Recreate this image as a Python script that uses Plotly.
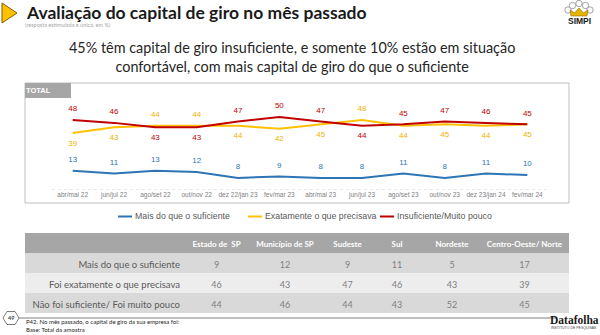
import plotly.graph_objects as go

# ---- series data -------------------------------------------------------
periods = ["abr/mai 22", "jun/jul 22", "ago/set 22", "out/nov 22", "dez 22/jan 23",
           "fev/mar 23", "abr/mai 23", "jun/jul 23", "ago/set 23", "out/nov 23",
           "dez 23/jan 24", "fev/mar 24"]
mais = [13, 11, 13, 12, 8, 9, 8, 8, 11, 8, 11, 10]
exatamente = [39, 43, 44, 44, 44, 42, 45, 48, 44, 45, 44, 45]
insuficiente = [48, 46, 43, 43, 47, 50, 47, 44, 45, 47, 46, 45]
series_names = ["Mais do que o suficiente", "Exatamente o que precisava",
                "Insuficiente/Muito pouco"]

# ---- regional table ----------------------------------------------------
regions = ["Estado de  SP", "Município de SP", "Sudeste", "Sul", "Nordeste",
           "Centro-Oeste/ Norte"]
row_labels = ["Mais do que o suficiente", "Foi exatamente o que precisava",
              "Não foi suficiente/ Foi muito pouco"]
reg_mais = [9, 12, 9, 11, 5, 17]
reg_exat = [46, 43, 47, 46, 43, 39]
reg_insuf = [44, 46, 44, 43, 52, 45]

W, H = 600, 335


def px(x):
    return x / W


def py(y):
    return 1 - y / H


def nobreak(s):
    # keep table text on a single line
    return s.replace(" ", "\u00a0")


BLUE = "#2E75B6"
YELLOW = "#FFC000"
RED = "#C00000"
COLORS = [BLUE, YELLOW, RED]
CHART_FONT = "Liberation Sans, Arial, sans-serif"
SLIDE_FONT = "Lato, Open Sans, sans-serif"

# red label goes above when red >= yellow, yellow label takes the other side
red_pos = ["top center" if r >= e else "bottom center" for r, e in zip(insuficiente, exatamente)]
yel_pos = ["bottom center" if r >= e else "top center" for r, e in zip(insuficiente, exatamente)]

fig = go.Figure()
for vals, name, color, tcolor, pos in [
        (mais, series_names[0], BLUE, BLUE, "top center"),
        (exatamente, series_names[1], YELLOW, "#F2B200", yel_pos),
        (insuficiente, series_names[2], RED, RED, red_pos)]:
    fig.add_trace(go.Scatter(
        x=periods, y=vals, name=name, mode="lines+markers+text",
        line=dict(color=color, width=2),
        marker=dict(size=9, opacity=0, color=color),
        text=[str(v) for v in vals], textposition=pos,
        textfont=dict(color=tcolor, size=8, family=CHART_FONT),
        hoverinfo="skip", showlegend=False))

# regional table
row_fill = ["#D9D9D9", "#EDEDED", "#D9D9D9"]
cols = [[nobreak(r) for r in row_labels]] + [[m, e, i] for m, e, i in zip(reg_mais, reg_exat, reg_insuf)]
fig.add_trace(go.Table(
    domain=dict(x=[px(25), px(569)], y=[py(314), py(233)]),
    columnwidth=[163, 57, 80, 45, 54, 56, 89],
    header=dict(values=[""] + [nobreak(r) for r in regions],
                fill_color="#A6A6A6", line=dict(color="#A6A6A6", width=0),
                align="center", height=20,
                font=dict(color="white", size=8, family=SLIDE_FONT, weight="bold")),
    cells=dict(values=cols,
               fill_color=[row_fill] * len(cols),
               line=dict(color=row_fill, width=0),
               align=["right"] + ["center"] * 6, height=20,
               font=dict(color=["#595959"] + ["#7F7F7F"] * 6, size=[9.5] + [9] * 6,
                         family=SLIDE_FONT)),
))

shapes = []
annotations = []

# chart frame and "TOTAL" tab
shapes.append(dict(type="rect", xref="paper", yref="paper", x0=px(25), x1=px(569),
                   y0=py(203), y1=py(83), line=dict(color="#BFBFBF", width=1),
                   fillcolor="rgba(0,0,0,0)", layer="below"))
shapes.append(dict(type="rect", xref="paper", yref="paper", x0=px(25), x1=px(71),
                   y0=py(98), y1=py(83), line=dict(width=0), fillcolor="#A6A6A6"))
annotations.append(dict(xref="paper", yref="paper", x=px(38), y=py(90.5), text="<b>TOTAL</b>",
                        showarrow=False, font=dict(color="white", size=7.5, family=CHART_FONT),
                        xanchor="center", yanchor="middle"))
# dotted baseline
shapes.append(dict(type="line", xref="x domain", yref="y", x0=0, x1=1, y0=0, y1=0,
                   line=dict(color="#D0D0D0", width=1, dash="dot")))

# legend: short line swatch followed by the series name
legend_x = [118, 248, 380]
for lx, name, color in zip(legend_x, series_names, COLORS):
    shapes.append(dict(type="line", xref="paper", yref="paper", x0=px(lx), x1=px(lx + 14),
                       y0=py(216.5), y1=py(216.5), line=dict(color=color, width=2)))
    annotations.append(dict(xref="paper", yref="paper", x=px(lx + 14.5), y=py(216.5), text=name,
                            showarrow=False, xanchor="left", yanchor="middle",
                            font=dict(size=8.8, color="#595959", family=CHART_FONT)))

# title block
shapes.append(dict(type="path", xref="paper", yref="paper",
                   path="M %f,%f L %f,%f L %f,%f Z" % (px(2), py(3), px(2), py(23), px(17), py(13)),
                   fillcolor=YELLOW, line=dict(color="#7F6000", width=1)))
annotations.append(dict(xref="paper", yref="paper", x=px(24), y=py(12),
                        text="<b>Avaliação do capital de giro no mês passado</b>",
                        showarrow=False, xanchor="left", yanchor="middle",
                        font=dict(size=17.5, color="#1A1A1A", family=SLIDE_FONT)))
annotations.append(dict(xref="paper", yref="paper", x=px(23), y=py(24.5),
                        text="(resposta estimulada e única, em %)",
                        showarrow=False, xanchor="left", yanchor="middle",
                        font=dict(size=5.5, color="#A6A6A6", family=SLIDE_FONT)))
annotations.append(dict(xref="paper", yref="paper", x=px(291.5), y=py(56.5),
                        text="45% têm capital de giro insuficiente, e somente 10% estão em situação<br>"
                             "confortável, com mais capital de giro do que o suficiente",
                        showarrow=False, xanchor="center", yanchor="middle", align="center",
                        font=dict(size=14.4, color="#262626", family=SLIDE_FONT)))

# SIMPI mark
for cx, cy, r in [(568, 10, 3.2), (572.5, 5.5, 3.2), (579, 3.5, 3.2), (585.5, 5.5, 3.2),
                  (590, 10, 3.2)]:
    shapes.append(dict(type="circle", xref="paper", yref="paper",
                       x0=px(cx - r), x1=px(cx + r), y0=py(cy + r), y1=py(cy - r),
                       fillcolor="white", line=dict(color="#8C8C8C", width=0.8)))
shapes.append(dict(type="path", xref="paper", yref="paper",
                   path="M %f,%f L %f,%f L %f,%f L %f,%f L %f,%f L %f,%f L %f,%f Z" % (
                       px(571), py(16), px(570), py(10), px(574.5), py(13), px(579), py(8),
                       px(583.5), py(13), px(588), py(10), px(587), py(16)),
                   fillcolor="#E8B400", line=dict(color="#8C6A00", width=0.6)))
annotations.append(dict(xref="paper", yref="paper", x=px(579), y=py(21.5), text="<b>SIMPI</b>",
                        showarrow=False, xanchor="center", yanchor="middle",
                        font=dict(size=8.5, color="#1A1A1A", family=CHART_FONT)))

# footer
shapes.append(dict(type="line", xref="paper", yref="paper", x0=px(19), x1=px(556),
                   y0=py(318), y1=py(318), line=dict(color="#808080", width=1)))
hx, hy = 11, 318
shapes.append(dict(type="path", xref="paper", yref="paper",
                   path="M %f,%f L %f,%f L %f,%f L %f,%f L %f,%f L %f,%f Z" % (
                       px(hx - 8), py(hy), px(hx - 4), py(hy - 6.5), px(hx + 4), py(hy - 6.5),
                       px(hx + 8), py(hy), px(hx + 4), py(hy + 6.5), px(hx - 4), py(hy + 6.5)),
                   fillcolor="white", line=dict(color="#595959", width=0.8)))
annotations.append(dict(xref="paper", yref="paper", x=px(hx), y=py(hy), text="<b>49</b>",
                        showarrow=False, xanchor="center", yanchor="middle",
                        font=dict(size=5.5, color="#404040", family=SLIDE_FONT)))
annotations.append(dict(xref="paper", yref="paper", x=px(25), y=py(325.5),
                        text="P42. No mês passado, o capital de giro da sua empresa foi:<br>"
                             "Base: Total da amostra",
                        showarrow=False, xanchor="left", yanchor="middle", align="left",
                        borderpad=0,
                        font=dict(size=6, color="#262626", family=SLIDE_FONT)))
annotations.append(dict(xref="paper", yref="paper", x=px(574), y=py(320), text="<b>Datafolha</b>",
                        showarrow=False, xanchor="center", yanchor="middle",
                        font=dict(size=11.5, color="#1A1A1A",
                                  family="Liberation Serif, DejaVu Serif, serif")))
annotations.append(dict(xref="paper", yref="paper", x=px(574), y=py(328), text="INSTITUTO DE PESQUISAS",
                        showarrow=False, xanchor="center", yanchor="middle", borderpad=0,
                        font=dict(size=3.5, color="#404040", family=CHART_FONT)))

fig.update_layout(
    width=W, height=H, margin=dict(l=0, r=0, t=0, b=0),
    paper_bgcolor="white", plot_bgcolor="white",
    xaxis=dict(domain=[px(52), px(548)], range=[-0.5, len(periods) - 0.5],
               showgrid=False, zeroline=False, showline=False, ticks="",
               tickangle=0,
               tickfont=dict(size=6.5, color="#808080", family=CHART_FONT),
               fixedrange=True),
    yaxis=dict(domain=[py(189.5), py(102.6)], range=[0, 60], visible=False,
               fixedrange=True),
    showlegend=False,
    shapes=shapes, annotations=annotations,
)

fig.write_html("out.html")
